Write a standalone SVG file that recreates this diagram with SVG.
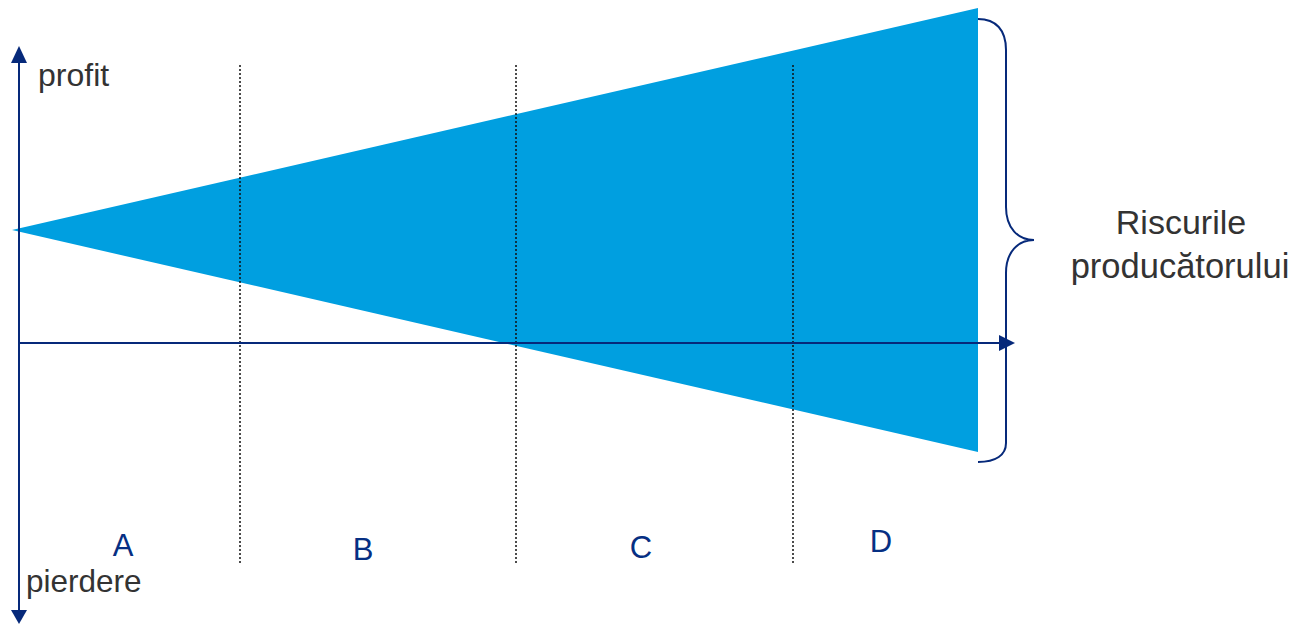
<svg xmlns="http://www.w3.org/2000/svg" width="1299" height="625" viewBox="0 0 1299 625">
<style>
.axis{stroke:#06297a;stroke-width:2;fill:none}
.head{fill:#06297a}
.div{stroke:#111;stroke-width:1.5;stroke-dasharray:2 2;fill:none}
.lab{font-family:"Liberation Sans",Arial,sans-serif;fill:#333333}
.seg{font-family:"Liberation Sans",Arial,sans-serif;fill:#062f83;font-size:31px;text-anchor:middle}
</style>
<rect width="1299" height="625" fill="#ffffff"/>
<g id="risk-triangle">
<polygon points="12,230 978,8 978,452" fill="#009fe0"/>
</g>
<g id="connectors">
<line class="div" x1="240" y1="65" x2="240" y2="564"/>
<line class="div" x1="516" y1="65" x2="516" y2="564"/>
<line class="div" x1="793" y1="65" x2="793" y2="564"/>
<line class="axis" x1="19" y1="60" x2="19" y2="612"/>
<polygon class="head" points="19,46 11,63 27,63"/>
<polygon class="head" points="19,624 11,610 27,610"/>
<line class="axis" x1="18" y1="343" x2="1001" y2="343"/>
<polygon class="head" points="1015,343 999,335 999,351"/>
<path class="axis" stroke-width="2.5" d="M978,19 C996,19 1006,30 1006,50 L1006,207 C1006,228 1018,240 1034,240 C1018,240 1006,252 1006,273 L1006,443 C1006,455 996,462 978,462"/>
</g>
<g id="label-profit"><text class="lab" x="38" y="86" font-size="32">profit</text></g>
<g id="label-pierdere"><text class="lab" x="26" y="592" font-size="31.5">pierdere</text></g>
<g id="label-risc">
<text class="lab" x="1181" y="234" font-size="34" text-anchor="middle">Riscurile</text>
<text class="lab" x="1180" y="278" font-size="34.5" text-anchor="middle">producătorului</text>
</g>
<g id="seg-A"><text class="seg" x="123" y="556">A</text></g>
<g id="seg-B"><text class="seg" x="363" y="560">B</text></g>
<g id="seg-C"><text class="seg" x="641" y="558">C</text></g>
<g id="seg-D"><text class="seg" x="881" y="552">D</text></g>
</svg>
